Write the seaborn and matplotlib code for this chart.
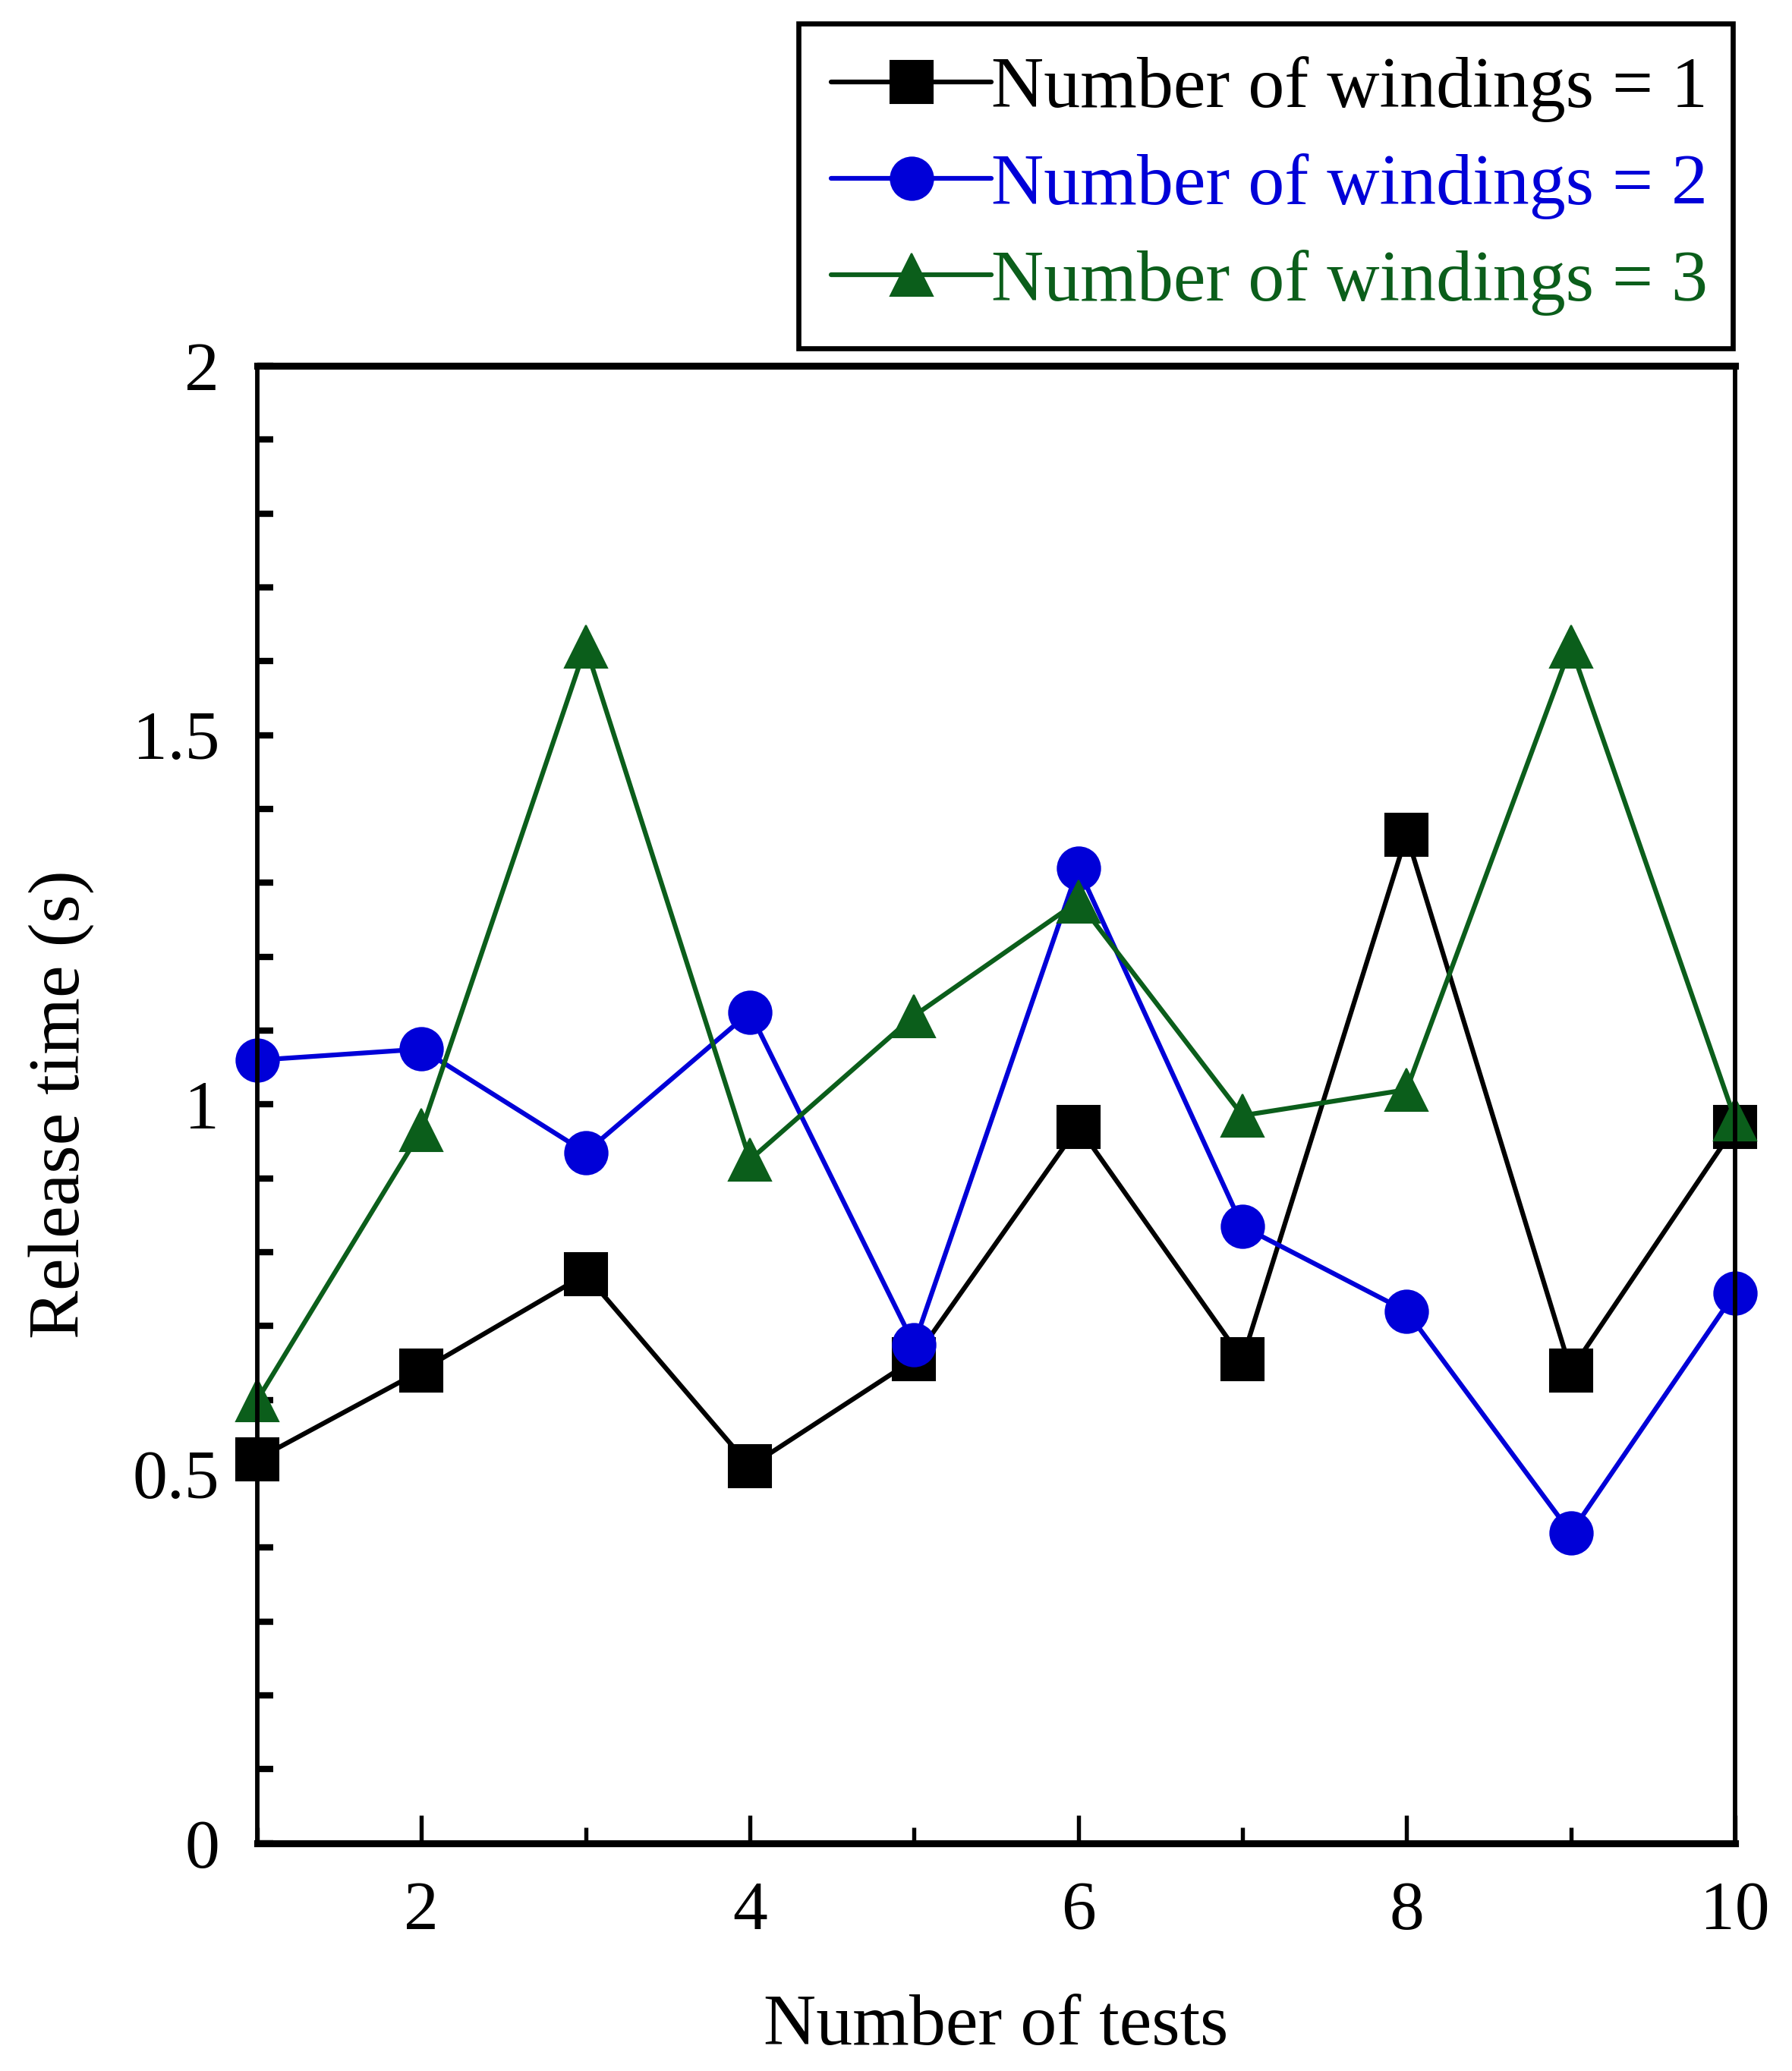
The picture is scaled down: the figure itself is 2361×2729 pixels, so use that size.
import pandas as pd
import matplotlib
matplotlib.use("Agg")
import matplotlib.pyplot as plt
from matplotlib.ticker import MultipleLocator
import seaborn as sns

# data
tests = [1, 2, 3, 4, 5, 6, 7, 8, 9, 10]
windings_1 = [0.52, 0.64, 0.77, 0.51, 0.655, 0.97, 0.655, 1.365, 0.64, 0.97]
windings_2 = [1.06, 1.075, 0.935, 1.125, 0.675, 1.32, 0.835, 0.72, 0.42, 0.745]
windings_3 = [0.60, 0.965, 1.62, 0.925, 1.12, 1.275, 0.985, 1.02, 1.62, 0.98]

labels = ["Number of windings = 1", "Number of windings = 2", "Number of windings = 3"]
colors = ["#000000", "#0000d8", "#0b5e1b"]
markers = ["s", "o", "^"]

sns.set_theme(style="white")
plt.rcParams["font.family"] = ["Liberation Serif", "DejaVu Serif"]
plt.rcParams["text.color"] = "black"
plt.rcParams["axes.labelcolor"] = "black"

fig = plt.figure(figsize=(7.87, 9.0967), dpi=300)
ax = fig.add_axes([0.1436, 0.110, 0.8246, 0.7134])

series = [windings_1, windings_2, windings_3]
for vals, lab, col, mk in zip(series, labels, colors, markers):
    df = pd.DataFrame({"test": tests, "time": vals})
    sns.lineplot(data=df, x="test", y="time", ax=ax, color=col, marker=mk,
                 markersize=13.5, markeredgecolor=col, markeredgewidth=0.5,
                 linewidth=1.5, label=lab, clip_on=False, legend=False)

ax.set_xlim(1, 10)
ax.set_ylim(0, 2)
ax.xaxis.set_major_locator(MultipleLocator(2))
ax.xaxis.set_minor_locator(MultipleLocator(1))
ax.yaxis.set_major_locator(MultipleLocator(0.5))
ax.yaxis.set_minor_locator(MultipleLocator(0.1))
ax.set_yticks([0, 0.5, 1, 1.5, 2])
ax.set_yticklabels(["0", "0.5", "1", "1.5", "2"])

ax.tick_params(axis="both", which="both", direction="in", colors="black",
               labelsize=22, pad=12)
ax.tick_params(axis="x", which="major", length=9, width=1.3, bottom=True, top=False)
ax.tick_params(axis="x", which="minor", length=5, width=1.3, bottom=True, top=False)
ax.tick_params(axis="y", which="major", length=5, width=2.0, left=True, right=False)
ax.tick_params(axis="y", which="minor", length=5, width=2.0, left=True, right=False)

for side in ["top", "bottom"]:
    ax.spines[side].set_linewidth(2.2)
for side in ["left", "right"]:
    ax.spines[side].set_linewidth(1.4)
for sp in ax.spines.values():
    sp.set_color("black")

ax.set_xlabel("Number of tests", fontsize=23, labelpad=16, color="black")
ax.set_ylabel("Release time (s)", fontsize=23, labelpad=12, color="black")

handles, labs = ax.get_legend_handles_labels()
leg = fig.legend(handles, labs, loc="upper left",
                 bbox_to_anchor=(0.4456, 0.834, 0.5214, 0.1546), mode="expand",
                 fontsize=23, frameon=True, fancybox=False, edgecolor="black",
                 framealpha=1, handlelength=2.2, handletextpad=0.0,
                 labelspacing=0.42, borderpad=0.45, borderaxespad=0)
leg.get_frame().set_linewidth(1.6)
for txt, col in zip(leg.get_texts(), colors):
    txt.set_color(col)

fig.savefig("out.png", dpi=300, facecolor="white")
